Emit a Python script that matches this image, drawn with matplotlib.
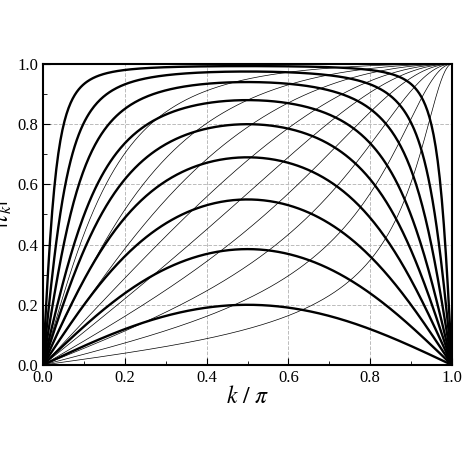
import numpy as np
import matplotlib.pyplot as plt
from matplotlib.ticker import MultipleLocator

# peak heights of the thick curves (at k/pi = 0.5)
thick_peaks = [0.20, 0.385, 0.55, 0.69, 0.80, 0.88, 0.94, 0.975, 0.993]
# values of the thin curves at k/pi = 0.5
thin_mid = [0.12, 0.22, 0.33, 0.45, 0.57, 0.68, 0.79, 0.88, 0.95]

plt.rcParams['font.family'] = ['Liberation Serif', 'DejaVu Serif']
plt.rcParams['mathtext.fontset'] = 'stix'

fig = plt.figure(figsize=(4.63, 4.63), dpi=100)
ax = fig.add_axes([43 / 463, 98 / 463, 409 / 463, 301 / 463])

x = np.linspace(0, 1, 401)
s = np.sin(np.pi * x)
t = np.tan(np.pi * x / 2 * 0.99999)
for p in thin_mid:
    c = 1 / p ** 2 - 1
    ax.plot(x, t / np.sqrt(t ** 2 + c), color='black', lw=0.5)
for p in thick_peaks:
    c = 1 / p ** 2 - 1
    ax.plot(x, s / np.sqrt(s ** 2 + c), color='black', lw=1.7)

ax.set_xlim(0, 1)
ax.set_ylim(0, 1)
ax.xaxis.set_major_locator(MultipleLocator(0.2))
ax.yaxis.set_major_locator(MultipleLocator(0.2))
ax.xaxis.set_minor_locator(MultipleLocator(0.1))
ax.yaxis.set_minor_locator(MultipleLocator(0.1))
ax.tick_params(which='both', direction='in', top=False, right=False, labelsize=12)
ax.tick_params(which='major', length=5)
ax.tick_params(which='minor', length=3)
ax.grid(True, which='major', ls='--', color='#bbbbbb', lw=0.7)
for sp in ax.spines.values():
    sp.set_linewidth(1.5)
ax.set_xlabel(r'$k\ /\ \pi$', fontsize=17, labelpad=0)
ax.set_ylabel(r'$|\tau_k|$', fontsize=17, labelpad=2)
fig.savefig('out.png', dpi=100)
